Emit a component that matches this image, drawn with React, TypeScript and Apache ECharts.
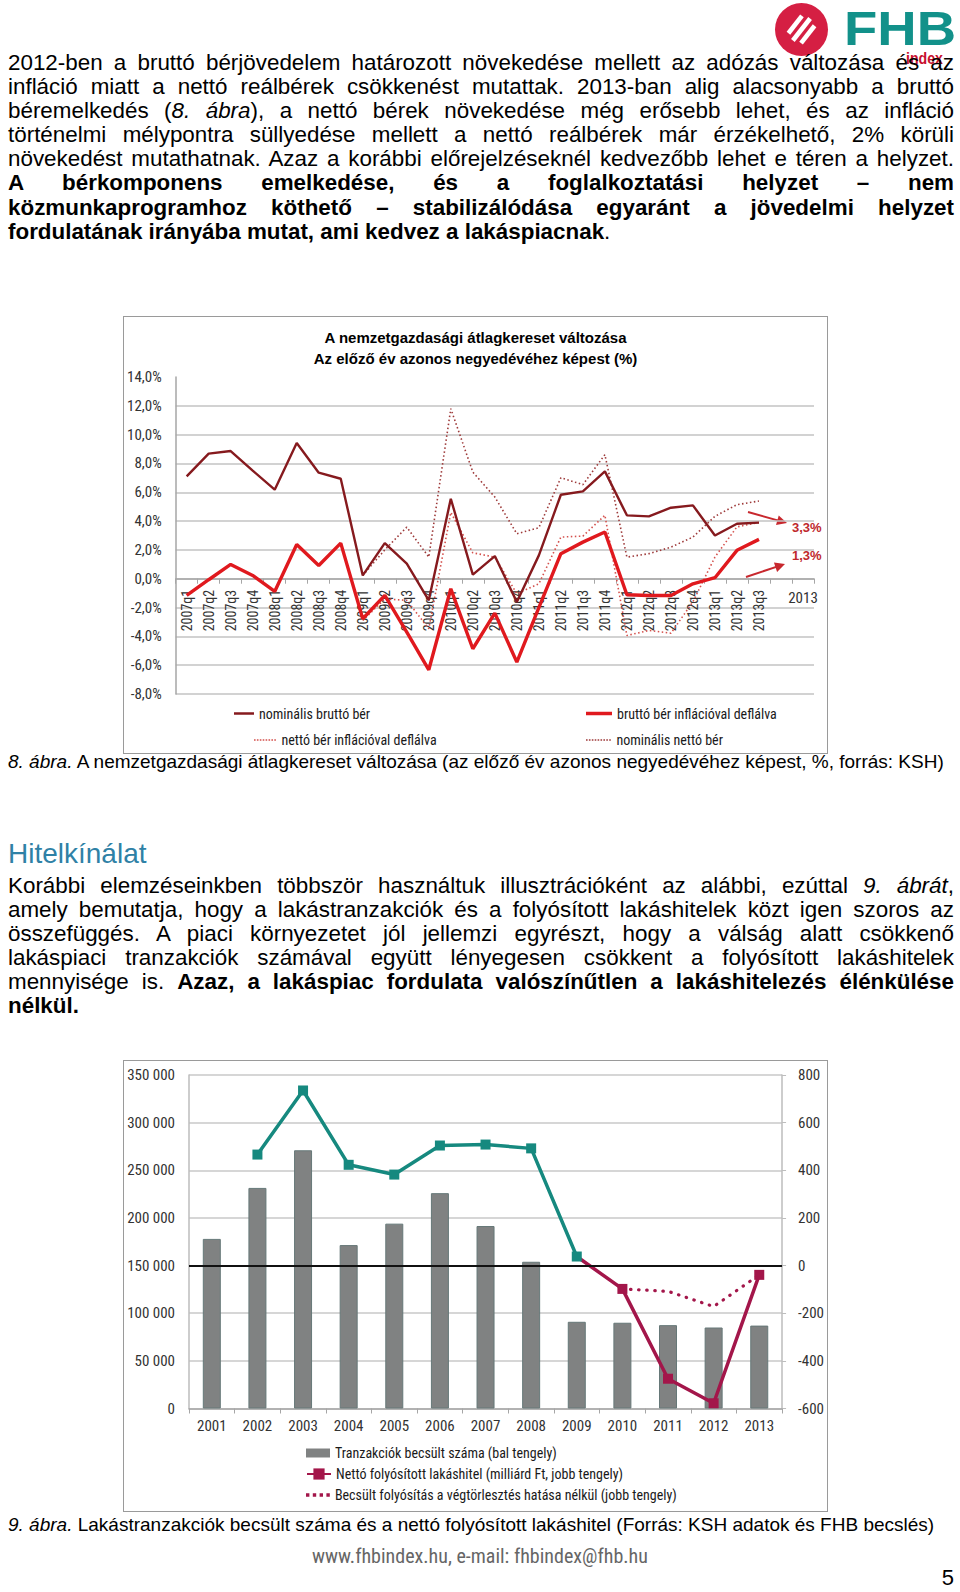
import React, { useEffect, useRef } from 'react';
import * as echarts from 'echarts';

// ---------- Chart 8 data (quarterly wage changes, %) ----------
const quarters = [
  '2007q1', '2007q2', '2007q3', '2007q4', '2008q1', '2008q2', '2008q3', '2008q4',
  '2009q1', '2009q2', '2009q3', '2009q4', '2010q1', '2010q2', '2010q3', '2010q4',
  '2011q1', '2011q2', '2011q3', '2011q4', '2012q1', '2012q2', '2012q3', '2012q4',
  '2013q1', '2013q2', '2013q3',
];
const wageCategories = [...quarters, '', '2013'];
const nominalGross = [7.1, 8.68, 8.86, 7.5, 6.18, 9.42, 7.36, 6.94, 0.23, 2.47, 1.04, -1.5, 5.55, 0.28, 1.57, -1.62, 1.62, 5.83, 6.06, 7.45, 4.4, 4.33, 4.93, 5.09, 3.0, 3.82, 3.89];
const realGross = [-1.16, -0.07, 0.99, 0.23, -0.88, 2.38, 0.92, 2.47, -2.78, -1.16, -3.7, -6.32, -0.7, -4.86, -2.39, -5.79, -2.0, 1.74, 2.54, 3.24, -1.11, -1.16, -1.16, -0.35, 0.07, 1.97, 2.73];
const realNet = [null, null, null, null, null, null, null, null, -2.9, -1.4, -1.5, -3.47, 4.6, 1.8, 1.5, -1.04, -0.35, 2.89, 2.96, 4.4, -3.94, -3.59, -3.78, -1.6, 1.5, 3.6, 3.9];
const nominalNet = [null, null, null, null, null, null, null, null, 0.23, 2.0, 3.58, 1.5, 11.8, 7.4, 5.67, 3.12, 3.54, 7.01, 6.53, 8.61, 1.5, 1.74, 2.19, 2.89, 4.33, 5.14, 5.39];
const forecastLabels = ['3,3%', '1,3%'];

// ---------- Chart 9 data ----------
const years = ['2001', '2002', '2003', '2004', '2005', '2006', '2007', '2008', '2009', '2010', '2011', '2012', '2013'];
const transactions = [178000, 231500, 271000, 171500, 194000, 226000, 191500, 154000, 91000, 90000, 87500, 85000, 87000];
const grossLoans = [null, 466, 735, 423, 382, 504, 508, 492, 38, null, null, null, null];
const netLoans = [null, null, null, null, null, null, null, null, 38, -98, -475, -578, -39];
const estimatedLoans = [null, null, null, null, null, null, null, null, null, -98, -108, -172, -39];

const NARROW = "'Liberation Sans Narrow', 'Arial Narrow', 'Roboto Condensed', 'DejaVu Sans Condensed', sans-serif";
const ARIAL = "'Liberation Sans', Arial, Helvetica, sans-serif";

function arrow(x1: number, y1: number, x2: number, y2: number, color: string) {
  const dx = x2 - x1, dy = y2 - y1;
  const len = Math.sqrt(dx * dx + dy * dy);
  const ux = dx / len, uy = dy / len;
  const nx = -uy, ny = ux;
  const hl = 10, hw = 5;
  return [
    { type: 'line', shape: { x1, y1, x2: x2 - ux * 6, y2: y2 - uy * 6 }, style: { stroke: color, lineWidth: 2 }, silent: true },
    {
      type: 'polygon', silent: true,
      shape: { points: [[x2, y2], [x2 - ux * hl + nx * hw, y2 - uy * hl + ny * hw], [x2 - ux * hl - nx * hw, y2 - uy * hl - ny * hw]] },
      style: { fill: color },
    },
  ];
}

// dotted legend icon: n small squares of size d separated by gap g
function dotsIcon(n: number, d: number, g: number) {
  let p = 'path://';
  for (let i = 0; i < n; i++) p += `M${i * (d + g)},0h${d}v${d}h-${d}z`;
  return p;
}

const legendText = { fontFamily: NARROW, fontSize: 14, color: '#1a1a1a' };
const legendBase = { padding: 0, selectedMode: false, textStyle: legendText, itemStyle: { borderWidth: 0 } };

// chart-1 grid geometry
const G1 = { left: 51, top: 60, width: 639, height: 317 };
const zeroOffset1 = -(G1.height * 8) / 22; // move the category axis up to the 0 % line

const option1: any = {
  animation: false,
  title: {
    text: 'A nemzetgazdasági átlagkereset változása\nAz előző év azonos negyedévéhez képest (%)',
    left: 'center', top: 5,
    textStyle: { fontFamily: ARIAL, fontSize: 15, fontWeight: 'bold', color: '#000', lineHeight: 21 },
  },
  grid: G1,
  legend: [
    { ...legendBase, data: ['nominális bruttó bér'], icon: 'rect', left: 110, top: 389.5, itemWidth: 20, itemHeight: 2.5 },
    { ...legendBase, data: ['bruttó bér inflációval deflálva'], icon: 'rect', left: 462, top: 389.5, itemWidth: 26, itemHeight: 3.5 },
    { ...legendBase, data: ['nettó bér inflációval deflálva'], icon: dotsIcon(8, 1.6, 1.3), left: 130, top: 416, itemWidth: 23, itemHeight: 1.6 },
    { ...legendBase, data: ['nominális nettó bér'], icon: dotsIcon(9, 1.6, 1.3), left: 462, top: 416, itemWidth: 26, itemHeight: 1.6 },
  ],
  xAxis: [
    {
      type: 'category', data: wageCategories, position: 'bottom', offset: zeroOffset1,
      axisLine: { onZero: false, lineStyle: { color: '#a6a6a6', width: 1.5 } },
      axisTick: { show: true, length: 5, lineStyle: { color: '#a6a6a6' } },
      axisLabel: {
        interval: 0, rotate: 90, margin: 11,
        formatter: (v: string) => (v.indexOf('q') >= 0 ? v : ''),
        fontFamily: NARROW, fontSize: 14, color: '#333',
      },
      splitLine: { show: false },
    },
    {
      type: 'category', data: wageCategories, position: 'bottom', offset: zeroOffset1,
      axisLine: { show: false, onZero: false },
      axisTick: { show: false },
      axisLabel: {
        interval: 0, margin: 12,
        formatter: (v: string) => (v === '2013' ? v : ''),
        fontFamily: NARROW, fontSize: 15, color: '#333',
      },
      splitLine: { show: false },
    },
  ],
  yAxis: {
    type: 'value', min: -8, max: 14, interval: 2,
    axisLine: { show: true, lineStyle: { color: '#a6a6a6', width: 1.5 } },
    axisTick: { show: false },
    splitLine: { show: true, showMaxLine: false, lineStyle: { color: '#c3c3c3', width: 1.5 } },
    axisLabel: {
      formatter: (v: number) => v.toFixed(1).replace('.', ',') + '%',
      fontFamily: NARROW, fontSize: 15, color: '#333', margin: 14,
    },
  },
  series: [
    { name: 'nominális nettó bér', type: 'line', data: nominalNet, symbol: 'none', lineStyle: { color: '#9E3A3A', width: 1.6, type: [1.5, 2.5] }, itemStyle: { color: '#9E3A3A' }, z: 2 },
    { name: 'nettó bér inflációval deflálva', type: 'line', data: realNet, symbol: 'none', lineStyle: { color: '#D4504C', width: 1.6, type: [1.5, 2.5] }, itemStyle: { color: '#D4504C' }, z: 2 },
    { name: 'nominális bruttó bér', type: 'line', data: nominalGross, symbol: 'none', lineStyle: { color: '#861A1E', width: 2.4 }, itemStyle: { color: '#861A1E' }, z: 3 },
    { name: 'bruttó bér inflációval deflálva', type: 'line', data: realGross, symbol: 'none', lineStyle: { color: '#E0191E', width: 3.4 }, itemStyle: { color: '#E0191E' }, z: 4 },
  ],
  graphic: [
    ...arrow(624, 195, 663, 206, '#C8282E'),
    ...arrow(622, 260, 661, 247, '#C8282E'),
    { type: 'text', left: 668, top: 204, silent: true, style: { text: forecastLabels[0], fill: '#C0282D', font: `bold 13px ${ARIAL}` } },
    { type: 'text', left: 668, top: 232, silent: true, style: { text: forecastLabels[1], fill: '#C0282D', font: `bold 13px ${ARIAL}` } },
  ],
};

const fmtThousands = (v: number) => String(v).replace(/\B(?=(\d{3})+(?!\d))/g, ' ');

const option2: any = {
  animation: false,
  grid: { left: 65, top: 14, width: 602, height: 333.5 },
  legend: [
    { ...legendBase, data: ['Tranzakciók becsült száma (bal tengely)'], icon: 'rect', left: 182, top: 385, itemWidth: 24, itemHeight: 9 },
    { ...legendBase, data: ['Nettó folyósított lakáshitel (milliárd Ft, jobb tengely)'], left: 182, top: 406, itemWidth: 24, itemHeight: 14 },
    { ...legendBase, data: ['Becsült folyósítás a végtörlesztés hatása nélkül (jobb tengely)'], icon: dotsIcon(4, 3.4, 3.4), left: 182, top: 427, itemWidth: 24, itemHeight: 3.4 },
  ],
  xAxis: {
    type: 'category', data: years,
    axisLine: { onZero: false, lineStyle: { color: '#a6a6a6', width: 1.5 } },
    axisTick: { show: true, length: 5, lineStyle: { color: '#a6a6a6' } },
    axisLabel: { interval: 0, margin: 10, fontFamily: NARROW, fontSize: 15, color: '#333' },
  },
  yAxis: [
    {
      type: 'value', min: 0, max: 350000, interval: 50000,
      axisLine: { show: true, lineStyle: { color: '#bdbdbd', width: 1.5 } },
      axisTick: { show: false },
      splitLine: { show: true, lineStyle: { color: '#c8c8c8', width: 1.5 } },
      axisLabel: { formatter: fmtThousands, fontFamily: NARROW, fontSize: 15, color: '#333', margin: 14 },
    },
    {
      type: 'value', min: -600, max: 800, interval: 200, position: 'right',
      axisLine: { show: true, onZero: false, lineStyle: { color: '#bdbdbd', width: 1.5 } },
      axisTick: { show: true, length: 4, lineStyle: { color: '#bdbdbd' } },
      splitLine: { show: false },
      axisLabel: { fontFamily: NARROW, fontSize: 15, color: '#333', margin: 16 },
    },
  ],
  series: [
    {
      name: 'Tranzakciók becsült száma (bal tengely)', type: 'bar', data: transactions, yAxisIndex: 0,
      barWidth: 18, itemStyle: { color: '#808282', borderColor: '#667878', borderWidth: 1 }, z: 1,
    },
    {
      name: 'Becsült folyósítás a végtörlesztés hatása nélkül (jobb tengely)', type: 'line', data: estimatedLoans, yAxisIndex: 1,
      symbol: 'none', lineStyle: { color: '#A3164A', width: 3.2, type: [0.5, 7.6], cap: 'round' }, itemStyle: { color: '#A3164A' }, z: 3,
    },
    {
      name: 'Nettó folyósított lakáshitel (milliárd Ft, jobb tengely)', type: 'line', yAxisIndex: 1,
      data: netLoans.map((v, i) => (i === 8 ? { value: v, symbolSize: 0 } : v)),
      symbol: 'rect', symbolSize: 10, lineStyle: { color: '#A3164A', width: 3.5 }, itemStyle: { color: '#A3164A' }, z: 4,
      markLine: {
        silent: true, symbol: 'none', label: { show: false },
        lineStyle: { color: '#111', width: 2, type: 'solid' },
        data: [{ yAxis: 0 }],
      },
    },
    {
      name: 'Folyósított lakáshitel', type: 'line', data: grossLoans, yAxisIndex: 1,
      symbol: 'rect', symbolSize: 10, lineStyle: { color: '#16897F', width: 3.5 }, itemStyle: { color: '#16897F' }, z: 5,
    },
  ],
};

function EChart({ option, style }: { option: any; style: React.CSSProperties }) {
  const ref = useRef<HTMLDivElement>(null);
  useEffect(() => {
    const chart = echarts.init(ref.current as HTMLDivElement, null, { renderer: 'svg' });
    chart.setOption(option);
    return () => chart.dispose();
  }, []);
  return <div ref={ref} style={style} />;
}

const LH = 24.1;
const J = ({ children, last = false }: { children: React.ReactNode; last?: boolean }) => (
  <div style={{ textAlign: last ? 'left' : 'justify', textAlignLast: last ? 'left' : 'justify', whiteSpace: 'nowrap', height: LH, lineHeight: LH + 'px' } as any}>
    {children}
  </div>
);

export default function App() {
  const body: React.CSSProperties = { position: 'absolute', left: 8, width: 946, fontFamily: ARIAL, fontSize: 22.4, color: '#000' };
  const caption: React.CSSProperties = { position: 'absolute', left: 8, width: 946, fontFamily: ARIAL, fontSize: 19, lineHeight: '22px', whiteSpace: 'nowrap', color: '#000' };
  return (
    <div style={{ position: 'absolute', left: 0, top: 0, width: 960, height: 1592, background: '#fff', overflow: 'hidden' }}>
      {/* logo */}
      <svg width={200} height={72} style={{ position: 'absolute', left: 760, top: 0 }}>
        <circle cx={41.5} cy={29.5} r={26.5} fill="#D51F43" />
        {[-8, 0, 8].map((o) => (
          <rect key={o} x={41.5 - (o === 0 ? 14 : 11)} y={29.5 + o - 2.3} width={o === 0 ? 28 : 22} height={4.6} fill="#fff" transform="rotate(-52 41.5 29.5)" />
        ))}
        <text x={84} y={45} fontFamily={ARIAL} fontWeight="bold" fontSize={49} fill="#12918A" textLength={112} lengthAdjust="spacingAndGlyphs">FHB</text>
        <text x={146} y={64} fontFamily={ARIAL} fontWeight="bold" fontSize={17} fill="#C8102E" textLength={37} lengthAdjust="spacingAndGlyphs">index</text>
      </svg>

      <div style={{ ...body, top: 51 }}>
        <J>2012-ben a bruttó bérjövedelem határozott növekedése mellett az adózás változása és az</J>
        <J>infláció miatt a nettó reálbérek csökkenést mutattak. 2013-ban alig alacsonyabb a bruttó</J>
        <J>béremelkedés (<i>8. ábra</i>), a nettó bérek növekedése még erősebb lehet, és az infláció</J>
        <J>történelmi mélypontra süllyedése mellett a nettó reálbérek már érzékelhető, 2% körüli</J>
        <J>növekedést mutathatnak. Azaz a korábbi előrejelzéseknél kedvezőbb lehet e téren a helyzet.</J>
        <J><b>A bérkomponens emelkedése, és a foglalkoztatási helyzet – nem</b></J>
        <J><b>közmunkaprogramhoz köthető – stabilizálódása egyaránt a jövedelmi helyzet</b></J>
        <J last><b>fordulatának irányába mutat, ami kedvez a lakáspiacnak</b>.</J>
      </div>

      <div style={{ position: 'absolute', left: 123, top: 316, width: 705, height: 438, border: '1px solid #9a9a9a', boxSizing: 'border-box' }}>
        <EChart option={option1} style={{ position: 'absolute', left: 0, top: 0, width: 703, height: 436 }} />
      </div>

      <div style={{ ...caption, top: 751 }}>
        <i>8. ábra.</i> A nemzetgazdasági átlagkereset változása (az előző év azonos negyedévéhez képest, %, forrás: KSH)
      </div>

      <div style={{ position: 'absolute', left: 8, top: 838, fontFamily: ARIAL, fontSize: 28, lineHeight: '32px', color: '#2F81A6' }}>Hitelkínálat</div>

      <div style={{ ...body, top: 874 }}>
        <J>Korábbi elemzéseinkben többször használtuk illusztrációként az alábbi, ezúttal <i>9. ábrát</i>,</J>
        <J>amely bemutatja, hogy a lakástranzakciók és a folyósított lakáshitelek közt igen szoros az</J>
        <J>összefüggés. A piaci környezetet jól jellemzi egyrészt, hogy a válság alatt csökkenő</J>
        <J>lakáspiaci tranzakciók számával együtt lényegesen csökkent a folyósított lakáshitelek</J>
        <J>mennyisége is. <b>Azaz, a lakáspiac fordulata valószínűtlen a lakáshitelezés élénkülése</b></J>
        <J last><b>nélkül.</b></J>
      </div>

      <div style={{ position: 'absolute', left: 123, top: 1060, width: 705, height: 452, border: '1px solid #9a9a9a', boxSizing: 'border-box' }}>
        <EChart option={option2} style={{ position: 'absolute', left: 0, top: 0, width: 703, height: 450 }} />
      </div>

      <div style={{ ...caption, top: 1514 }}>
        <i>9. ábra.</i> Lakástranzakciók becsült száma és a nettó folyósított lakáshitel (Forrás: KSH adatok és FHB becslés)
      </div>

      <div style={{ position: 'absolute', left: 0, width: 960, top: 1544, textAlign: 'center', fontFamily: NARROW, fontSize: 20, lineHeight: '24px', color: '#666' }}>
        www.fhbindex.hu, e-mail: fhbindex@fhb.hu
      </div>
      <div style={{ position: 'absolute', right: 6, top: 1566, fontFamily: ARIAL, fontSize: 22, lineHeight: '24px', color: '#000' }}>5</div>
    </div>
  );
}
